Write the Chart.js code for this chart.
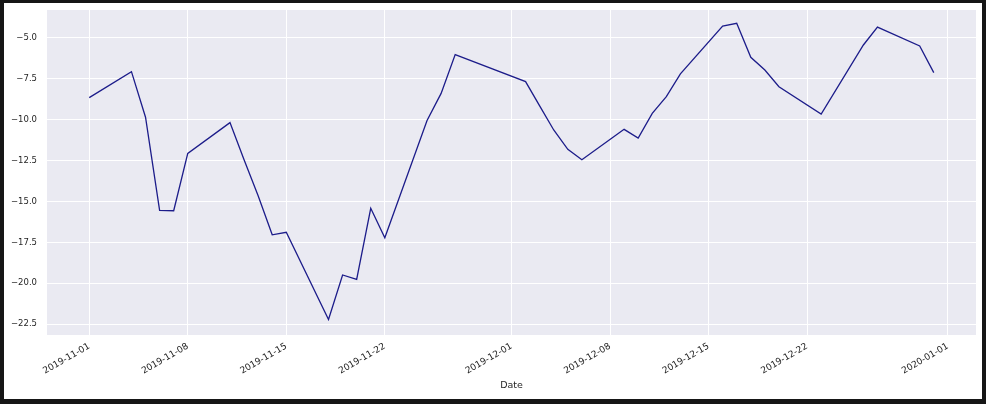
<!DOCTYPE html>
<html>
<head>
<meta charset="utf-8">
<script src="https://cdn.jsdelivr.net/npm/chart.js@4"></script>
<style>
    html, body { margin: 0; padding: 0; background: #161616; overflow: hidden; }
    #frame { position: absolute; left: 4px; top: 3px; width: 978px; height: 396px; background: #ffffff; }
    #wrap { position: absolute; left: 0; top: 0; width: 986px; height: 404px; }
</style>
</head>
<body>
<div id="frame"></div>
<div id="wrap"><canvas id="chart"></canvas></div>
<script>
// Datos
const dates = [
    '2019-11-01', '2019-11-04', '2019-11-05', '2019-11-06', '2019-11-07', '2019-11-08',
    '2019-11-11', '2019-11-12', '2019-11-13', '2019-11-14', '2019-11-15',
    '2019-11-18', '2019-11-19', '2019-11-20', '2019-11-21', '2019-11-22',
    '2019-11-25', '2019-11-26', '2019-11-27',
    '2019-12-02', '2019-12-03', '2019-12-04', '2019-12-05', '2019-12-06',
    '2019-12-09', '2019-12-10', '2019-12-11', '2019-12-12', '2019-12-13',
    '2019-12-16', '2019-12-17', '2019-12-18', '2019-12-19', '2019-12-20',
    '2019-12-23', '2019-12-26', '2019-12-27',
    '2019-12-30', '2019-12-31'
];
const values = [
    -8.65, -7.06, -9.85, -15.55, -15.57, -12.06,
    -10.18, -12.45, -14.65, -17.04, -16.89,
    -22.22, -19.5, -19.77, -15.42, -17.22,
    -10.05, -8.39, -6.02,
    -7.67, -9.15, -10.63, -11.81, -12.45,
    -10.59, -11.13, -9.61, -8.59, -7.2,
    -4.27, -4.1, -6.18, -6.96, -7.98,
    -9.65, -5.43, -4.34,
    -5.49, -7.12
];
const xTickDates = [
    '2019-11-01', '2019-11-08', '2019-11-15', '2019-11-22', '2019-12-01',
    '2019-12-08', '2019-12-15', '2019-12-22', '2020-01-01'
];
const yTicks = [-22.5, -20.0, -17.5, -15.0, -12.5, -10.0, -7.5, -5.0];
const xRange = ['2019-10-29', '2020-01-03'];
const yRange = [-23.17, -3.29];

// Días desde el primer dato (no hay adaptador de fechas)
const origin = Date.parse(dates[0] + 'T00:00:00Z');
const dayOf = (d) => (Date.parse(d + 'T00:00:00Z') - origin) / 86400000;

const points = dates.map((d, i) => ({ x: dayOf(d), y: values[i] }));
const xTickValues = xTickDates.map(dayOf);

const textColor = '#262626';
const fontFamily = "'DejaVu Sans', sans-serif";

// Fondo gris del área de trazado (estilo darkgrid)
const plotBackground = {
    id: 'plotBackground',
    beforeDraw(chart) {
        const { ctx, chartArea } = chart;
        ctx.save();
        ctx.fillStyle = '#eaeaf2';
        ctx.fillRect(chartArea.left, chartArea.top,
            chartArea.right - chartArea.left, chartArea.bottom - chartArea.top);
        ctx.restore();
    }
};

const ctx = document.getElementById('chart').getContext('2d');

new Chart(ctx, {
    type: 'line',
    data: {
        datasets: [{
            data: points,
            borderColor: '#1c1c8a',
            borderWidth: 1.3,
            pointRadius: 0,
            fill: false,
            tension: 0
        }]
    },
    options: {
        responsive: true,
        maintainAspectRatio: false,
        animation: false,
        layout: {
            padding: { top: 10, right: 10, left: 0, bottom: 0 }
        },
        plugins: {
            legend: { display: false },
            tooltip: { enabled: false }
        },
        scales: {
            x: {
                type: 'linear',
                min: dayOf(xRange[0]),
                max: dayOf(xRange[1]),
                afterBuildTicks: (scale) => {
                    scale.ticks = xTickValues.map(v => ({ value: v }));
                },
                afterFit: (scale) => {
                    scale.height = 69;
                    scale.paddingLeft = 0;
                    scale.paddingRight = 0;
                },
                grid: {
                    color: '#ffffff',
                    lineWidth: 1,
                    drawTicks: false
                },
                border: { display: false },
                ticks: {
                    autoSkip: false,
                    minRotation: 30,
                    maxRotation: 30,
                    padding: 6,
                    color: textColor,
                    font: { family: fontFamily, size: 9 },
                    callback: (value) => {
                        const i = xTickValues.indexOf(value);
                        return i >= 0 ? xTickDates[i] : '';
                    }
                },
                title: {
                    display: true,
                    text: 'Date',
                    color: textColor,
                    font: { family: fontFamily, size: 9.5 },
                    padding: { top: 0, bottom: 13 }
                }
            },
            y: {
                min: yRange[0],
                max: yRange[1],
                afterBuildTicks: (scale) => {
                    scale.ticks = yTicks.map(v => ({ value: v }));
                },
                afterFit: (scale) => {
                    scale.width = 47;
                    scale.paddingTop = 0;
                    scale.paddingBottom = 0;
                },
                grid: {
                    color: '#ffffff',
                    lineWidth: 1,
                    drawTicks: false
                },
                border: { display: false },
                ticks: {
                    padding: 10,
                    color: textColor,
                    font: { family: fontFamily, size: 8.5 },
                    callback: (value) => value.toFixed(1).replace('-', '\u2212')
                }
            }
        }
    },
    plugins: [plotBackground]
});
</script>
</body>
</html>
